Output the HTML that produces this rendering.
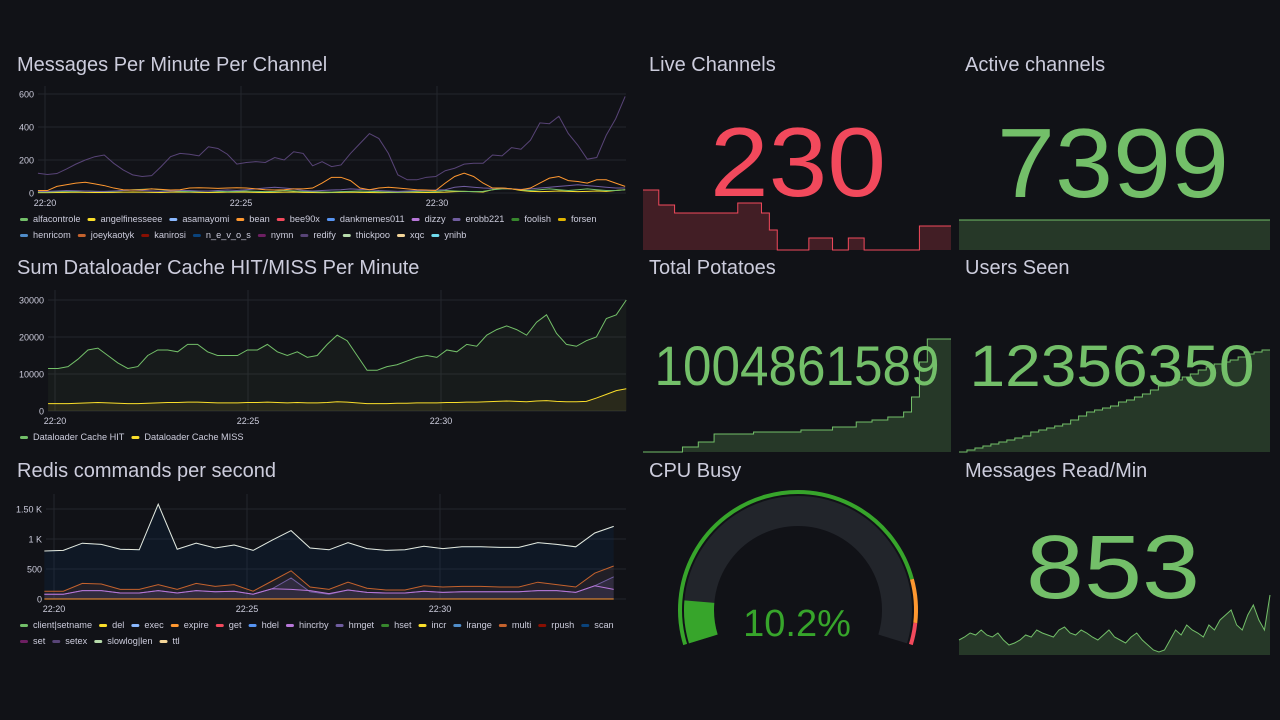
<!DOCTYPE html>
<html><head><meta charset="utf-8"><style>
html,body{margin:0;padding:0;background:#111217;}
svg{display:block;font-family:"Liberation Sans",sans-serif;}
</style></head><body>
<svg id="s" width="1280" height="720" viewBox="0 0 1280 720" xmlns="http://www.w3.org/2000/svg">
<rect width="1280" height="720" fill="#111217"/>
<g fill="#ccccdc" font-size="20">
<text x="17" y="71">Messages Per Minute Per Channel</text>
<text x="17" y="274">Sum Dataloader Cache HIT/MISS Per Minute</text>
<text x="17" y="477">Redis commands per second</text>
<text x="649" y="71">Live Channels</text>
<text x="965" y="71">Active channels</text>
<text x="649" y="274">Total Potatoes</text>
<text x="965" y="274">Users Seen</text>
<text x="649" y="477">CPU Busy</text>
<text x="965" y="477">Messages Read/Min</text>
</g>
<g id="g"></g>
</svg>
<script>
// ---- Panel 1 data ----
const p1Ticks=[0,200,400,600];
const p1TimeTicks=[0,5,10];
const p1TimeLabels=["22:20","22:25","22:30"];
const p1Top=[120,112,118,145,175,200,220,230,180,140,110,100,105,160,220,240,235,225,280,270,235,175,185,190,185,215,200,250,240,165,190,160,170,240,300,360,330,240,110,80,80,95,100,135,150,175,180,180,230,225,275,265,320,425,420,465,360,290,205,215,350,450,585];
const p1Orange=[15,15,40,50,60,65,55,45,30,20,18,20,25,22,18,20,30,32,30,28,30,32,30,25,20,18,20,25,25,30,60,95,95,75,30,20,30,35,30,25,20,18,15,60,100,120,100,60,30,30,25,20,30,60,90,100,75,70,60,80,80,60,40];
const p1Blue=[10,10,12,15,14,12,10,10,12,15,18,15,12,10,12,15,15,12,12,15,18,15,20,25,30,35,30,25,15,12,15,18,20,25,22,20,15,12,10,12,15,15,18,20,35,40,35,30,28,30,25,22,25,30,35,40,45,50,45,40,35,30,30];
const p1Green=[5,5,8,10,10,12,10,8,10,15,20,22,25,20,15,10,8,10,12,10,8,10,12,10,8,10,15,12,10,8,6,5,8,10,12,10,8,6,5,8,10,12,10,15,12,10,8,10,20,25,25,20,15,20,25,20,15,20,25,20,15,15,20];
const p1Yellow=[2,2,3,4,5,4,3,3,4,5,6,5,4,3,5,6,5,4,3,4,5,6,5,4,3,4,5,6,4,3,2,3,4,5,4,3,2,3,4,5,4,3,4,5,8,10,8,6,20,30,25,15,10,8,10,12,10,8,10,12,10,15,20];
const p1Legend=[["alfacontrole","#73bf69"],["angelfinesseee","#fade2a"],["asamayomi","#8ab8ff"],["bean","#ff9830"],["bee90x","#f2495c"],["dankmemes011","#5794f2"],["dizzy","#b877d9"],["erobb221","#705da0"],["foolish","#37872d"],["forsen","#e0b400"],["henricom","#508cc8"],["joeykaotyk","#c4622d"],["kanirosi","#890f02"],["n_e_v_o_s","#0a437c"],["nymn","#6d1f62"],["redify","#584477"],["thickpoo","#b7dbab"],["xqc","#f4d598"],["ynihb","#70dbed"]];
// ---- Panel 2 data ----
const p2Ticks=[0,10000,20000,30000];
const p2Hit=[11500,11500,12000,14000,16500,17000,15000,13000,11500,12000,15000,16500,16500,16000,18000,18000,16000,15000,15000,15000,16500,16500,18000,16000,15000,16000,14500,15000,18000,20500,19000,15000,11000,11000,12000,12500,13500,14500,15000,14500,16500,16000,18000,17500,20500,22000,23000,22000,20500,24000,26000,21000,18000,17500,19000,20000,25000,26000,30000];
const p2Miss=[2000,2000,2000,2100,2200,2300,2200,2100,2000,2000,2100,2200,2300,2300,2400,2400,2300,2200,2200,2200,2300,2300,2400,2300,2200,2300,2200,2200,2300,2500,2400,2200,2000,2000,2000,2100,2100,2200,2200,2200,2300,2300,2400,2400,2500,2600,2700,2600,2500,2700,2800,2600,2500,2500,2600,3500,4500,5500,6000];
// ---- Panel 3 data ----
const p3Ticks=[0,500,1000,1500];
const p3TickLabels=["0","500","1 K","1.50 K"];
const p3Slowlog=[800,810,930,910,830,820,1580,830,930,850,900,810,980,1140,850,820,940,840,810,820,880,840,870,870,860,860,940,910,870,1100,1210];
const p3Multi=[130,130,260,250,160,160,240,160,260,210,240,130,300,470,200,160,280,180,150,150,220,200,210,210,200,200,280,240,200,430,550];
const p3Hmget=[80,80,140,140,100,100,140,100,140,120,130,80,170,350,120,80,150,110,100,100,130,110,120,120,120,120,140,140,110,220,370];
const p3Hincrby=[80,80,140,140,100,100,140,100,140,120,130,80,170,160,140,90,150,110,100,100,130,110,120,120,120,120,140,140,110,220,160];
const p3Legend=[["client|setname","#73bf69"],["del","#fade2a"],["exec","#8ab8ff"],["expire","#ff9830"],["get","#f2495c"],["hdel","#5794f2"],["hincrby","#b877d9"],["hmget","#705da0"],["hset","#37872d"],["incr","#fade2a"],["lrange","#508cc8"],["multi","#c4622d"],["rpush","#890f02"],["scan","#0a437c"],["set","#6d1f62"],["setex","#584477"],["slowlog|len","#b7dbab"],["ttl","#f4d598"]];
// ---- Stat data ----
const liveValue="230";
const liveSpark=[60,60,45,45,37,37,37,37,37,37,37,37,47,47,47,37,20,0,0,0,0,12,12,12,0,0,12,12,0,0,0,0,0,0,0,24,24,24,24,24];
const activeValue="7399";
const activeSpark=[30,30,30,30,30,30,30,30,30,30];
const potatoValue="1004861589";
const potatoSpark=[0,0,0,0,0,5,5,10,10,18,18,18,18,18,20,20,20,20,20,20,22,22,22,22,25,25,25,30,30,32,32,35,35,40,55,90,113,113,113,113];
const usersValue="12356350";
const usersSpark=[0,2,4,6,8,10,12,14,16,20,22,24,26,28,32,36,40,42,44,46,50,52,55,58,62,66,70,72,75,78,82,85,88,90,92,95,98,100,102,102];
const readValue="853";
const readSpark=[15,18,22,20,25,20,18,22,15,10,12,15,20,18,25,22,20,18,25,28,22,20,25,22,18,15,20,25,18,15,12,18,22,15,10,5,3,5,15,25,20,30,25,22,18,30,25,35,40,45,30,25,40,50,35,25,60];
const cpuValue=10.2;

const NS="http://www.w3.org/2000/svg";
const G=document.getElementById('g');
function el(t,a,p){const e=document.createElementNS(NS,t);for(const k in a)e.setAttribute(k,a[k]);(p||G).appendChild(e);return e;}
function pathFrom(vals,xf,yf,step){let d="";vals.forEach((v,i)=>{const x=xf(i),y=yf(v);if(i===0)d+="M"+x+","+y;else if(step){d+="H"+x+"V"+y;}else d+="L"+x+","+y;});return d;}

function timeChart(o){
  const xT=t=>o.x0+t*o.ppm;
  const yV=v=>o.yb-v*o.ppv;
  o.ticks.forEach((v,i)=>{
    const gl=el('line',{x1:o.left,x2:o.right,y1:yV(v),y2:yV(v),stroke:'#24262c','stroke-width':1});
    
    const t=el('text',{x:o.left-4,y:yV(v)+3.5,'text-anchor':'end','font-size':9,fill:'#ccccdc'});
    t.textContent=o.tickLabels?o.tickLabels[i]:String(v);
    
  });
  p1TimeTicks.forEach((t,i)=>{
    const gl=el('line',{x1:xT(t),x2:xT(t),y1:o.ytop,y2:o.yb,stroke:'#24262c'});
    
    const tx=el('text',{x:xT(t),y:o.yb+13,'text-anchor':'middle','font-size':9,fill:'#ccccdc'});
    tx.textContent=p1TimeLabels[i];
    
  });
  o.series.forEach(s=>{
    const n=s.v.length;const xf=i=>xT(o.t0+i*(o.t1-o.t0)/(n-1));
    const d=pathFrom(s.v,xf,yV);
    if(s.fill){const a=el('path',{d:d+"L"+xf(n-1)+","+o.yb+"L"+xf(0)+","+o.yb+"Z",fill:s.c,'fill-opacity':s.fo||0.08});
      }
    const p=el('path',{d:d,fill:'none',stroke:s.c,'stroke-width':1});
    
  });
  let x=20;
  o.legend.forEach((it,i)=>{
    const row=Math.floor(i/o.perRow);
    if(i%o.perRow===0)x=20;
    const y=o.legY+row*16;
    const sw=el('rect',{x:x,y:y-4,width:8,height:3,rx:1.5,fill:it[1]});
    
    const t=el('text',{x:x+13,y:y,'font-size':9.2,fill:'#ccccdc'});t.textContent=it[0];
    
    x+=13+t.getComputedTextLength()+7;
  });
}

timeChart({x0:45,ppm:39.2,yb:193,ppv:99/600,ytop:86,left:38,right:626,ticks:p1Ticks,t0:-0.18,t1:14.8,
 series:[{v:p1Yellow,c:'#fade2a',name:'angelfinesseee'},{v:p1Green,c:'#73bf69',name:'alfacontrole'},{v:p1Blue,c:'#705da0',name:'erobb221'},{v:p1Orange,c:'#ff9830',name:'bean'},{v:p1Top,c:'#584477',name:'redify'}],
 legend:p1Legend,perRow:10,legY:222});
timeChart({x0:55,ppm:38.6,yb:411,ppv:111/30000,ytop:290,left:48,right:626,ticks:p2Ticks,t0:-0.18,t1:14.8,
 series:[{v:p2Hit,c:'#73bf69',name:'dataloader-cache-hit',fill:1,fo:0.06},{v:p2Miss,c:'#fade2a',name:'dataloader-cache-miss',fill:1,fo:0.08}],
 legend:[["Dataloader Cache HIT","#73bf69"],["Dataloader Cache MISS","#fade2a"]],perRow:10,legY:440});
timeChart({x0:54,ppm:38.6,yb:599,ppv:0.06,ytop:494,left:46,right:626,ticks:p3Ticks,tickLabels:p3TickLabels,t0:-0.25,t1:14.5,
 series:[{v:p3Slowlog,c:'#0a437c',name:'scan-area',fill:1,fo:0.14},{v:p3Multi,c:'#c4622d',name:'multi',fill:1,fo:0.1},{v:p3Hmget,c:'#705da0',name:'hmget',fill:1,fo:0.2},{v:p3Hincrby,c:'#b877d9',name:'hincrby'},{v:p3Slowlog,c:'#e8e8d8',name:'slowlog-len'},{v:p3Slowlog.map(()=>0),c:'#ff9830',name:'expire'}],
 legend:p3Legend,perRow:14,legY:628});

function stat(o){
  const n=o.spark.length;const w=o.x1-o.x0;const xf=i=>o.x0+i*w/(n-1);const yf=v=>o.yb-v*o.sc;
  const d=pathFrom(o.spark,xf,yf,o.step);
  const a=el('path',{d:d+"L"+o.x1+","+o.yb+"L"+o.x0+","+o.yb+"Z",fill:o.c,'fill-opacity':0.22});
  
  const l=el('path',{d:d,fill:'none',stroke:o.c,'stroke-width':1});
  
  const t=el('text',{x:o.tx,y:o.ty,'text-anchor':'middle','font-size':o.fs,fill:o.c,textLength:o.tl,lengthAdjust:'spacingAndGlyphs'});
  t.textContent=o.value;
}
stat({name:'live-channels',value:liveValue,spark:liveSpark,x0:643,x1:951,yb:250,sc:1,c:'#f2495c',step:1,tx:798,ty:196,fs:98,tl:176});
stat({name:'active-channels',value:activeValue,spark:activeSpark,x0:959,x1:1270,yb:250,sc:1,c:'#73bf69',tx:1113,ty:197,fs:98,tl:232});
stat({name:'total-potatoes',value:potatoValue,spark:potatoSpark,x0:643,x1:951,yb:452,sc:1,c:'#73bf69',step:1,tx:797,ty:385,fs:56,tl:285});
stat({name:'users-seen',value:usersValue,spark:usersSpark,x0:959,x1:1270,yb:452,sc:1,c:'#73bf69',step:1,tx:1112,ty:386,fs:58,tl:285});
stat({name:'messages-read',value:readValue,spark:readSpark,x0:959,x1:1270,yb:655,sc:1,c:'#73bf69',tx:1113,ty:598,fs:90,tl:174});

// gauge
(function(){
  const cx=798,cy=610;const a0=197,a1=-17;
  const ang=f=>(a0+(a1-a0)*f)*Math.PI/180;
  const pt=(r,f)=>[cx+r*Math.cos(ang(f)),cy-r*Math.sin(ang(f))];
  function arc(r,f0,f1,col,w,name){const p0=pt(r,f0),p1=pt(r,f1);const large=Math.abs((a1-a0)*(f1-f0))>180?1:0;
    const p=el('path',{d:`M${p0[0]},${p0[1]}A${r},${r} 0 ${large} 1 ${p1[0]},${p1[1]}`,fill:'none',stroke:col,'stroke-width':w});
    }
  arc(118,0,0.85,'#37a52b',4,'gauge-threshold-green');
  arc(118,0.85,0.95,'#ff9830',4,'gauge-threshold-orange');
  arc(118,0.95,1,'#f2495c',4,'gauge-threshold-red');
  arc(99,0,1,'#22252b',30,'gauge-track');
  arc(99,0,cpuValue/100,'#37a52b',30,'gauge-value-arc');
  const t=el('text',{x:797,y:636,'text-anchor':'middle','font-size':38,fill:'#37a52b'});
  t.textContent=cpuValue.toFixed(1)+"%";
})();
</script>
</body></html>
